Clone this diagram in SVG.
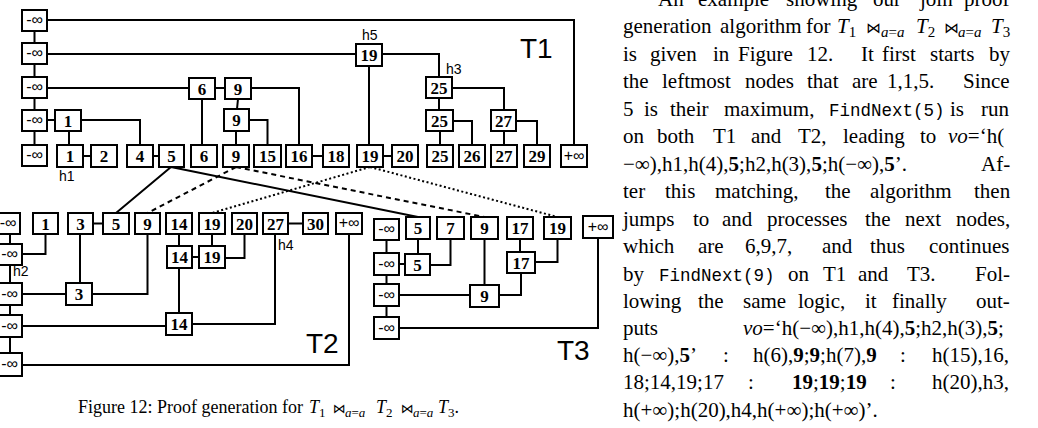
<svg xmlns="http://www.w3.org/2000/svg" width="1038" height="428" viewBox="0 0 1038 428">
<style>
.b{fill:#fff;stroke:#000;stroke-width:2}
.n{font:bold 17px "Liberation Serif",serif;text-anchor:middle;fill:#000}
.i{font:16px "Liberation Sans",sans-serif;text-anchor:middle;fill:#000}
.l{fill:none;stroke:#000;stroke-width:2}
.d{stroke-dasharray:5,4}
.o{stroke-dasharray:2,2.5}
.h{font:14px "Liberation Sans",sans-serif;fill:#000}
.tl{font:28px "Liberation Sans",sans-serif;fill:#000}
.tx{font:21px "Liberation Serif","DejaVu Serif",serif;fill:#000}
.cp{font:18px "Liberation Serif","DejaVu Serif",serif;fill:#000}
.m{font-family:"Liberation Mono",monospace;font-size:17.5px}
.it{font-style:italic}
.bd{font-weight:bold}
.sb{font-size:15px}
.sc{font-size:13px}
.bt{font-family:"DejaVu Sans",sans-serif;font-size:15px}
.bc{font-family:"DejaVu Sans",sans-serif;font-size:13px}
</style>
<g id="connectors">
<path class="l" d="M34.5 31V43M34.5 64V77M34.5 98V110M34.5 131V145M47 20H574V145M47 54H356M382 54H439V77M47 88H189M215 88H225M251 88H299V145M202 99V145M238 99L237 109M249 120H267.5V145M236 131V145M47 120H55M81 120H140V145M69 131V145M83 156H91M153 156H159M312 156H323M383 156H392M369 66V145M452 88H504V110M439 98V110M453 121H472V145M440 131V145M516 121H537V145M504 131V145"/>
<path class="l" d="M10 234V244M10 265V283M10 305V315M10 337V353M22 254H45.5V234M22 294H66M92 294H147.5V234M80 234V283M93 223.5H103M22 326H166M192 324H275V234M179 234V246M179 268V313M192 257H199M212 234V246M225 258H244.5V234M288 223.5H303M22 365H349V234"/>
<path class="l" d="M386.5 240V253M386.5 275V284M386.5 306V317M399 264H405M418 239V254M430 265H450.5V239M399 295H470M484.5 239V285M499 295H521V273M520 239V252M535 262H557.5V239M399 328H598V239"/>
<path class="l" d="M171 167L116 213M171 167L418 217"/>
<path class="l d" d="M236 167L147.5 213M236 167L484.5 217"/>
<path class="l o" d="M370 167L212 213M370 167L557.5 217"/>
</g>
<g id="t1-ninf1"><rect class="b" x="22" y="10" width="25" height="21"/><text class="i" x="34.5" y="25">-∞</text></g>
<g id="t1-ninf2"><rect class="b" x="22" y="43" width="25" height="21"/><text class="i" x="34.5" y="58">-∞</text></g>
<g id="t1-ninf3"><rect class="b" x="22" y="77" width="25" height="21"/><text class="i" x="34.5" y="92">-∞</text></g>
<g id="t1-ninf4"><rect class="b" x="22" y="110" width="25" height="21"/><text class="i" x="34.5" y="125">-∞</text></g>
<g id="t1-ninf5"><rect class="b" x="22" y="145" width="25" height="21"/><text class="i" x="34.5" y="160">-∞</text></g>
<g id="t1-h5"><rect class="b" x="356" y="44" width="26" height="22"/><text class="n" x="369" y="61">19</text></g>
<g id="t1-r3-6"><rect class="b" x="189" y="78" width="26" height="21"/><text class="n" x="202" y="95">6</text></g>
<g id="t1-r3-9"><rect class="b" x="225" y="78" width="26" height="21"/><text class="n" x="238" y="95">9</text></g>
<g id="t1-r3-25"><rect class="b" x="426" y="77" width="26" height="21"/><text class="n" x="439" y="94">25</text></g>
<g id="t1-r4-1"><rect class="b" x="55" y="110" width="26" height="21"/><text class="n" x="68" y="127">1</text></g>
<g id="t1-r4-9"><rect class="b" x="224" y="109" width="25" height="22"/><text class="n" x="236.5" y="126">9</text></g>
<g id="t1-r4-25"><rect class="b" x="426" y="110" width="27" height="21"/><text class="n" x="439.5" y="127">25</text></g>
<g id="t1-r4-27"><rect class="b" x="491" y="110" width="25" height="21"/><text class="n" x="503.5" y="127">27</text></g>
<g id="t1-l1"><rect class="b" x="57" y="145" width="26" height="22"/><text class="n" x="70" y="162">1</text></g>
<g id="t1-l2"><rect class="b" x="91" y="145" width="26" height="22"/><text class="n" x="104" y="162">2</text></g>
<g id="t1-l4"><rect class="b" x="127" y="145" width="26" height="22"/><text class="n" x="140" y="162">4</text></g>
<g id="t1-l5"><rect class="b" x="159" y="145" width="25" height="22"/><text class="n" x="171.5" y="162">5</text></g>
<g id="t1-l6"><rect class="b" x="191" y="145" width="26" height="22"/><text class="n" x="204" y="162">6</text></g>
<g id="t1-l9"><rect class="b" x="223" y="145" width="26" height="22"/><text class="n" x="236" y="162">9</text></g>
<g id="t1-l15"><rect class="b" x="254" y="145" width="27" height="22"/><text class="n" x="267.5" y="162">15</text></g>
<g id="t1-l16"><rect class="b" x="286" y="145" width="26" height="22"/><text class="n" x="299" y="162">16</text></g>
<g id="t1-l18"><rect class="b" x="323" y="145" width="26" height="22"/><text class="n" x="336" y="162">18</text></g>
<g id="t1-l19"><rect class="b" x="357" y="145" width="26" height="22"/><text class="n" x="370" y="162">19</text></g>
<g id="t1-l20"><rect class="b" x="392" y="145" width="26" height="22"/><text class="n" x="405" y="162">20</text></g>
<g id="t1-l25"><rect class="b" x="427" y="145" width="26" height="22"/><text class="n" x="440" y="162">25</text></g>
<g id="t1-l26"><rect class="b" x="459" y="145" width="26" height="22"/><text class="n" x="472" y="162">26</text></g>
<g id="t1-l27"><rect class="b" x="491" y="145" width="26" height="22"/><text class="n" x="504" y="162">27</text></g>
<g id="t1-l29"><rect class="b" x="524" y="145" width="26" height="22"/><text class="n" x="537" y="162">29</text></g>
<g id="t1-pinf"><rect class="b" x="561" y="145" width="26" height="22"/><text class="i" x="574" y="161">+∞</text></g>
<g id="t2-ninf1"><rect class="b" x="-4" y="213" width="24" height="21"/><text class="i" x="8" y="228">-∞</text></g>
<g id="t2-ninf2"><rect class="b" x="-3" y="244" width="25" height="21"/><text class="i" x="9.5" y="259">-∞</text></g>
<g id="t2-ninf3"><rect class="b" x="-3" y="283" width="25" height="22"/><text class="i" x="9.5" y="299">-∞</text></g>
<g id="t2-ninf4"><rect class="b" x="-3" y="315" width="25" height="22"/><text class="i" x="9.5" y="331">-∞</text></g>
<g id="t2-ninf5"><rect class="b" x="-3" y="353" width="25" height="23"/><text class="i" x="9.5" y="369">-∞</text></g>
<g id="t2-r1-1"><rect class="b" x="33" y="213" width="25" height="21"/><text class="n" x="45.5" y="230">1</text></g>
<g id="t2-r1-3"><rect class="b" x="68" y="213" width="25" height="21"/><text class="n" x="80.5" y="230">3</text></g>
<g id="t2-r1-5"><rect class="b" x="103" y="213" width="26" height="21"/><text class="n" x="116" y="230">5</text></g>
<g id="t2-r1-9"><rect class="b" x="135" y="213" width="25" height="21"/><text class="n" x="147.5" y="230">9</text></g>
<g id="t2-r1-14"><rect class="b" x="166" y="213" width="26" height="21"/><text class="n" x="179" y="230">14</text></g>
<g id="t2-r1-19"><rect class="b" x="199" y="213" width="26" height="21"/><text class="n" x="212" y="230">19</text></g>
<g id="t2-r1-20"><rect class="b" x="232" y="213" width="25" height="21"/><text class="n" x="244.5" y="230">20</text></g>
<g id="t2-r1-27"><rect class="b" x="263" y="213" width="25" height="21"/><text class="n" x="275.5" y="230">27</text></g>
<g id="t2-r1-30"><rect class="b" x="303" y="213" width="25" height="21"/><text class="n" x="315.5" y="230">30</text></g>
<g id="t2-pinf"><rect class="b" x="336" y="213" width="26" height="21"/><text class="i" x="349" y="228">+∞</text></g>
<g id="t2-r2-14"><rect class="b" x="167" y="246" width="25" height="22"/><text class="n" x="179.5" y="263">14</text></g>
<g id="t2-r2-19"><rect class="b" x="199" y="246" width="26" height="22"/><text class="n" x="212" y="263">19</text></g>
<g id="t2-r3-3"><rect class="b" x="66" y="283" width="26" height="22"/><text class="n" x="79" y="300">3</text></g>
<g id="t2-r4-14"><rect class="b" x="166" y="313" width="26" height="22"/><text class="n" x="179" y="330">14</text></g>
<g id="t3-ninf1"><rect class="b" x="374" y="219" width="25" height="21"/><text class="i" x="386.5" y="234">-∞</text></g>
<g id="t3-ninf2"><rect class="b" x="374" y="253" width="25" height="22"/><text class="i" x="386.5" y="269">-∞</text></g>
<g id="t3-ninf3"><rect class="b" x="374" y="284" width="25" height="22"/><text class="i" x="386.5" y="300">-∞</text></g>
<g id="t3-ninf4"><rect class="b" x="374" y="317" width="25" height="22"/><text class="i" x="386.5" y="333">-∞</text></g>
<g id="t3-r1-5"><rect class="b" x="406" y="217" width="24" height="22"/><text class="n" x="418" y="234">5</text></g>
<g id="t3-r1-7"><rect class="b" x="437" y="217" width="27" height="22"/><text class="n" x="450.5" y="234">7</text></g>
<g id="t3-r1-9"><rect class="b" x="471" y="217" width="27" height="22"/><text class="n" x="484.5" y="234">9</text></g>
<g id="t3-r1-17"><rect class="b" x="507" y="217" width="26" height="22"/><text class="n" x="520" y="234">17</text></g>
<g id="t3-r1-19"><rect class="b" x="544" y="217" width="27" height="22"/><text class="n" x="557.5" y="234">19</text></g>
<g id="t3-pinf"><rect class="b" x="583" y="216" width="30" height="22"/><text class="i" x="598" y="232">+∞</text></g>
<g id="t3-r2-5"><rect class="b" x="405" y="254" width="25" height="21"/><text class="n" x="417.5" y="271">5</text></g>
<g id="t3-r2-17"><rect class="b" x="507" y="252" width="28" height="21"/><text class="n" x="521" y="269">17</text></g>
<g id="t3-r3-9"><rect class="b" x="470" y="285" width="29" height="22"/><text class="n" x="484.5" y="302">9</text></g>
<g id="labels">
<text class="h" x="59" y="181">h1</text>
<text class="h" x="362" y="40">h5</text>
<text class="h" x="446" y="74">h3</text>
<text class="h" x="13" y="276">h2</text>
<text class="h" x="278" y="250">h4</text>
<text class="tl" x="520" y="58">T1</text>
<text class="tl" x="306" y="353">T2</text>
<text class="tl" x="557" y="360">T3</text>
</g>
<g id="caption">
<text class="cp" y="413"><tspan x="78">Figure 12: Proof generation for</tspan><tspan x="309" class="it">T</tspan><tspan class="sc" dy="4">1</tspan><tspan x="333" dy="-4" class="bc">⋈</tspan><tspan x="345" dy="4" class="sc it">a</tspan><tspan class="sc">=</tspan><tspan class="sc it">a</tspan><tspan x="376" dy="-4" class="it">T</tspan><tspan class="sc" dy="4">2</tspan><tspan x="401" dy="-4" class="bc">⋈</tspan><tspan x="413" dy="4" class="sc it">a</tspan><tspan class="sc">=</tspan><tspan class="sc it">a</tspan><tspan x="438" dy="-4" class="it">T</tspan><tspan class="sc" dy="4">3</tspan><tspan dy="-4">.</tspan></text>
</g>
<g id="paragraph">
<text class="tx" y="6"><tspan x="658">An</tspan><tspan x="698">example</tspan><tspan x="786">showing</tspan><tspan x="873">our</tspan><tspan x="920">join</tspan><tspan x="964">proof</tspan></text>
<text class="tx" y="33"><tspan x="623">generation</tspan><tspan x="720">algorithm</tspan><tspan x="806">for</tspan><tspan x="837" class="it">T</tspan><tspan class="sb" dy="4">1</tspan><tspan x="866" dy="-4" class="bt">⋈</tspan><tspan x="881" dy="4" class="sb it">a</tspan><tspan class="sb">=</tspan><tspan class="sb it">a</tspan><tspan x="916" dy="-4" class="it">T</tspan><tspan class="sb" dy="4">2</tspan><tspan x="944" dy="-4" class="bt">⋈</tspan><tspan x="958" dy="4" class="sb it">a</tspan><tspan class="sb">=</tspan><tspan class="sb it">a</tspan><tspan x="991" dy="-4" class="it">T</tspan><tspan class="sb" dy="4">3</tspan></text>
<text class="tx" y="61"><tspan x="623">is</tspan><tspan x="650">given</tspan><tspan x="713">in</tspan><tspan x="738">Figure</tspan><tspan x="807">12.</tspan><tspan x="861">It</tspan><tspan x="882">first</tspan><tspan x="930">starts</tspan><tspan x="989">by</tspan></text>
<text class="tx" y="88"><tspan x="623">the</tspan><tspan x="662">leftmost</tspan><tspan x="745">nodes</tspan><tspan x="807">that</tspan><tspan x="852">are</tspan><tspan x="887">1,1,5.</tspan><tspan x="963">Since</tspan></text>
<text class="tx" y="116"><tspan x="623">5</tspan><tspan x="644">is</tspan><tspan x="670">their</tspan><tspan x="724">maximum,</tspan><tspan x="829" class="m">FindNext(5)</tspan><tspan x="950">is</tspan><tspan x="981">run</tspan></text>
<text class="tx" y="143"><tspan x="623">on</tspan><tspan x="657">both</tspan><tspan x="713">T1</tspan><tspan x="751">and</tspan><tspan x="798">T2,</tspan><tspan x="843">leading</tspan><tspan x="920">to</tspan><tspan x="948" class="it">vo</tspan><tspan>=‘h(</tspan></text>
<text class="tx" y="171"><tspan x="623">−∞),h1,h(4),</tspan><tspan class="bd">5</tspan><tspan>;h2,h(3),</tspan><tspan class="bd">5</tspan><tspan>;h(−∞),</tspan><tspan class="bd">5</tspan><tspan>’.</tspan><tspan x="981">Af-</tspan></text>
<text class="tx" y="198"><tspan x="623">ter</tspan><tspan x="665">this</tspan><tspan x="715">matching,</tspan><tspan x="825">the</tspan><tspan x="870">algorithm</tspan><tspan x="974">then</tspan></text>
<text class="tx" y="226"><tspan x="623">jumps</tspan><tspan x="693">to</tspan><tspan x="722">and</tspan><tspan x="767">processes</tspan><tspan x="865">the</tspan><tspan x="905">next</tspan><tspan x="956">nodes,</tspan></text>
<text class="tx" y="253"><tspan x="623">which</tspan><tspan x="698">are</tspan><tspan x="745">6,9,7,</tspan><tspan x="822">and</tspan><tspan x="870">thus</tspan><tspan x="929">continues</tspan></text>
<text class="tx" y="281"><tspan x="623">by</tspan><tspan x="659" class="m">FindNext(9)</tspan><tspan x="788">on</tspan><tspan x="823">T1</tspan><tspan x="858">and</tspan><tspan x="907">T3.</tspan><tspan x="975">Fol-</tspan></text>
<text class="tx" y="308"><tspan x="623">lowing</tspan><tspan x="698">the</tspan><tspan x="743">same</tspan><tspan x="798">logic,</tspan><tspan x="865">it</tspan><tspan x="892">finally</tspan><tspan x="976">out-</tspan></text>
<text class="tx" y="335"><tspan x="623">puts</tspan><tspan x="743" class="it">vo</tspan><tspan>=‘h(−∞),h1,h(4),</tspan><tspan class="bd">5</tspan><tspan>;h2,h(3),</tspan><tspan class="bd">5</tspan><tspan>;</tspan></text>
<text class="tx" y="362"><tspan x="623">h(−∞),</tspan><tspan class="bd">5</tspan><tspan>’</tspan><tspan x="723">:</tspan><tspan x="753">h(6),</tspan><tspan class="bd">9</tspan><tspan>;</tspan><tspan class="bd">9</tspan><tspan>;h(7),</tspan><tspan class="bd">9</tspan><tspan x="900">:</tspan><tspan x="932">h(15),16,</tspan></text>
<text class="tx" y="389"><tspan x="623">18;14,19;17</tspan><tspan x="748">:</tspan><tspan x="792" class="bd">19</tspan><tspan>;</tspan><tspan class="bd">19</tspan><tspan>;</tspan><tspan class="bd">19</tspan><tspan x="890">:</tspan><tspan x="932">h(20),h3,</tspan></text>
<text class="tx" y="417"><tspan x="623">h(+∞);h(20),h4,h(+∞);h(+∞)’.</tspan></text>
</g>
</svg>
